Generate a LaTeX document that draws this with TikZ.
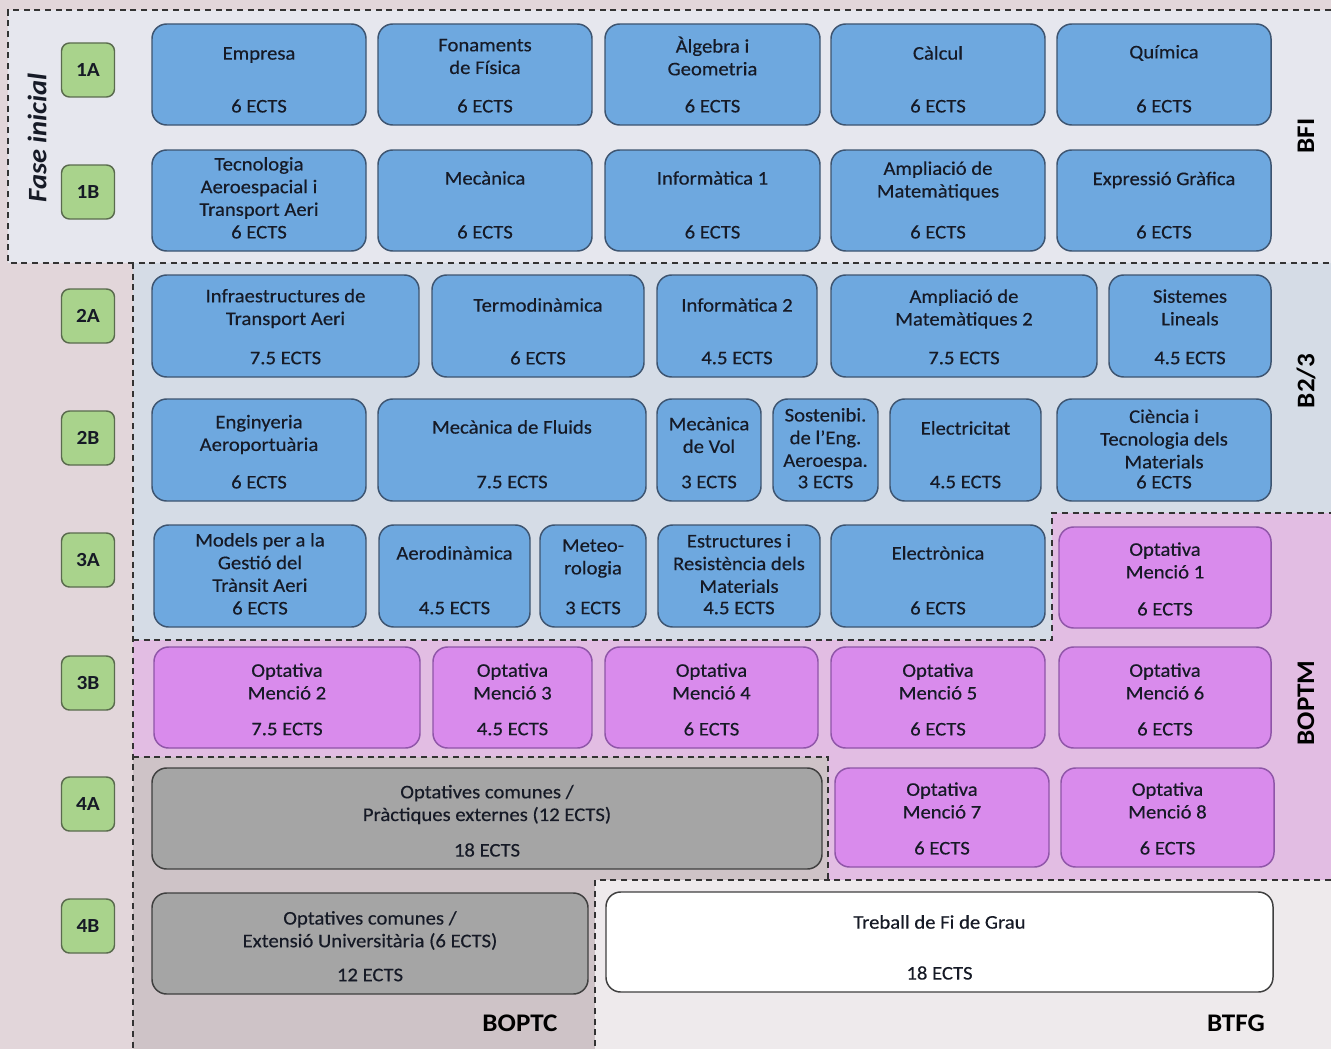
\documentclass[tikz,border=0pt]{standalone}
\usepackage{fontspec}
\setmainfont{Carlito}[FakeStretch=1.07, UprightFeatures={FakeBold=0.35}]
\definecolor{bgmauve}{HTML}{E2D6DA}
\definecolor{bfifill}{HTML}{E6E7EE}
\definecolor{btwofill}{HTML}{D5DCE6}
\definecolor{boptmfill}{HTML}{E2BDE3}
\definecolor{boptcfill}{HTML}{CEC3C7}
\definecolor{btfgfill}{HTML}{EEEAEC}
\definecolor{bluefill}{HTML}{6EA8DF}
\definecolor{blueline}{HTML}{3D5470}
\definecolor{purpfill}{HTML}{D98BEC}
\definecolor{purpline}{HTML}{8F55A8}
\definecolor{grayfill}{HTML}{A5A5A5}
\definecolor{grayline}{HTML}{3F3F3F}
\definecolor{greenfill}{HTML}{A9D38C}
\definecolor{greenline}{HTML}{5A6B4E}
\definecolor{txtcol}{HTML}{161A26}
\definecolor{dashcol}{HTML}{333333}
\tikzset{
  basebox/.style={rectangle, rounded corners=11pt, line width=1.1pt, inner sep=0pt, outer sep=0pt},
  bluebox/.style={basebox, fill=bluefill, draw=blueline},
  purpbox/.style={basebox, fill=purpfill, draw=purpline},
  graybox/.style={basebox, fill=grayfill, draw=grayline},
  whitebox/.style={basebox, fill=white, draw=grayline},
  txt/.style={align=center, text=txtcol, inner sep=0pt, font=\fontsize{14.5}{17}\selectfont},
  semlabel/.style={rectangle, rounded corners=6pt, fill=greenfill, draw=greenline, line width=1.1pt,
    minimum width=39.75pt, minimum height=40.5pt, inner sep=0pt, text=txtcol, font=\fontsize{15}{18}\selectfont\bfseries},
  regionlabel/.style={text=black, inner sep=0pt, font=\fontsize{19}{22}\selectfont\bfseries},
  dashline/.style={draw=dashcol, line width=1.1pt, dash pattern=on 4.5pt off 3.5pt},
}
\newcommand\course[9]{%
  \pgfmathsetmacro\bw{(#5-#3)*0.75}%
  \pgfmathsetmacro\bh{(#6-#4)*0.75}%
  \node[#2, minimum width=\bw pt, minimum height=\bh pt] (#1) at ({(#3+#5)/2},{(#4+#6)/2}) {};
  \node[txt] (#1-t) at ({(#3+#5)/2},#8) {#7};
  \node[txt] (#1-e) at ({(#3+#5)/2},{#6-19}) {#9};
}
\begin{document}
\begin{tikzpicture}[x=0.75pt,y=-0.75pt]
\useasboundingbox (0,0) rectangle (1331,1049);
% backgrounds
\fill[bgmauve] (0,0) rectangle (1331,1049);
\fill[bfifill] (8,10) rectangle (1331,263);
\fill[btwofill] (133,263) -- (1331,263) -- (1331,513) -- (1052,513) -- (1052,640) -- (133,640) -- cycle;
\fill[boptmfill] (1052,513) -- (1331,513) -- (1331,880) -- (828,880) -- (828,757) -- (133,757) -- (133,640) -- (1052,640) -- cycle;
\fill[boptcfill] (133,757) -- (828,757) -- (828,880) -- (595,880) -- (595,1049) -- (133,1049) -- cycle;
\fill[btfgfill] (595,880) rectangle (1331,1049);
% dashed borders
\draw[dashline] (1331,10) -- (8,10) -- (8,263) -- (1331,263);
\draw[dashline] (133,263) -- (133,1049);
\draw[dashline] (133,640) -- (1052,640) -- (1052,513) -- (1331,513);
\draw[dashline] (133,757) -- (828,757) -- (828,880);
\draw[dashline] (1331,880) -- (595,880) -- (595,1049);
% semester labels
\node[semlabel] (s1A) at (88,70) {1A};
\node[semlabel] (s1B) at (88,192) {1B};
\node[semlabel] (s2A) at (88,316) {2A};
\node[semlabel] (s2B) at (88,438) {2B};
\node[semlabel] (s3A) at (88,560) {3A};
\node[semlabel] (s3B) at (88,683) {3B};
\node[semlabel] (s4A) at (88,804) {4A};
\node[semlabel] (s4B) at (88,926) {4B};
% region labels
\node[rotate=90, text=txtcol, inner sep=0pt, font=\fontsize{20}{24}\selectfont\bfseries\itshape] (fase) at (37,138) {Fase inicial};
\node[regionlabel, rotate=90] (lbfi) at (1306,136) {BFI};
\node[regionlabel, rotate=90] (lb23) at (1306,381) {B2/3};
\node[regionlabel, rotate=90] (lboptm) at (1306,703) {BOPTM};
\node[regionlabel] (lboptc) at (520,1023) {BOPTC};
\node[regionlabel] (lbtfg) at (1236,1023) {BTFG};
% row 1A
\course{e1}{bluebox}{152}{24}{366}{125}{Empresa}{55}{6 ECTS}
\course{e2}{bluebox}{378}{24}{592}{125}{Fonaments\\de Física}{56.5}{6 ECTS}
\course{e3}{bluebox}{605}{24}{820}{125}{Àlgebra i\\Geometria}{56}{6 ECTS}
\course{e4}{bluebox}{831}{24}{1045}{125}{Càlcul}{53}{6 ECTS}
\course{e5}{bluebox}{1057}{24}{1271}{125}{Química}{53}{6 ECTS}
% row 1B
\course{f1}{bluebox}{152}{150}{366}{251}{Tecnologia\\Aeroespacial i\\Transport Aeri}{188}{6 ECTS}
\course{f2}{bluebox}{378}{150}{592}{251}{Mecànica}{178}{6 ECTS}
\course{f3}{bluebox}{605}{150}{820}{251}{Informàtica 1}{178}{6 ECTS}
\course{f4}{bluebox}{831}{150}{1045}{251}{Ampliació de\\Matemàtiques}{181}{6 ECTS}
\course{f5}{bluebox}{1057}{150}{1271}{251}{Expressió Gràfica}{180}{6 ECTS}
% row 2A
\course{g1}{bluebox}{152}{275}{419}{377}{Infraestructures de\\Transport Aeri}{308.5}{7.5 ECTS}
\course{g2}{bluebox}{432}{275}{644}{377}{Termodinàmica}{305}{6 ECTS}
\course{g3}{bluebox}{657}{275}{817}{377}{Informàtica 2}{305}{4.5 ECTS}
\course{g4}{bluebox}{831}{275}{1097}{377}{Ampliació de\\Matemàtiques 2}{309}{7.5 ECTS}
\course{g5}{bluebox}{1109}{275}{1271}{377}{Sistemes\\Lineals}{307.5}{4.5 ECTS}
% row 2B
\course{h1}{bluebox}{152}{399}{366}{501}{Enginyeria\\Aeroportuària}{434.5}{6 ECTS}
\course{h2}{bluebox}{378}{399}{646}{501}{Mecànica de Fluids}{427}{7.5 ECTS}
\course{h3}{bluebox}{657}{399}{761}{501}{Mecànica\\de Vol}{435}{3 ECTS}
\course{h4}{bluebox}{773}{399}{878}{501}{Sostenibi.\\de l’Eng.\\Aeroespa.}{439}{3 ECTS}
\course{h5}{bluebox}{890}{399}{1041}{501}{Electricitat}{428}{4.5 ECTS}
\course{h6}{bluebox}{1057}{399}{1271}{501}{Ciència i\\Tecnologia dels\\Materials}{439}{6 ECTS}
% row 3A
\course{i1}{bluebox}{154}{525}{366}{627}{Models per a la\\Gestió del\\Trànsit Aeri}{562.5}{6 ECTS}
\course{i2}{bluebox}{379}{525}{530}{627}{Aerodinàmica}{553}{4.5 ECTS}
\course{i3}{bluebox}{540}{525}{646}{627}{Meteo-\\rologia}{558.5}{3 ECTS}
\course{i4}{bluebox}{658}{525}{820}{627}{Estructures i\\Resistència dels\\Materials}{563.5}{4.5 ECTS}
\course{i5}{bluebox}{831}{525}{1045}{627}{Electrònica}{553}{6 ECTS}
\course{i6}{purpbox}{1059}{527}{1271}{628}{Optativa\\Menció 1}{560.5}{6 ECTS}
% row 3B
\course{j1}{purpbox}{154}{647}{420}{748}{Optativa\\Menció 2}{681.5}{7.5 ECTS}
\course{j2}{purpbox}{433}{647}{592}{748}{Optativa\\Menció 3}{681.5}{4.5 ECTS}
\course{j3}{purpbox}{605}{647}{818}{748}{Optativa\\Menció 4}{681.5}{6 ECTS}
\course{j4}{purpbox}{831}{647}{1045}{748}{Optativa\\Menció 5}{681.5}{6 ECTS}
\course{j5}{purpbox}{1059}{647}{1271}{748}{Optativa\\Menció 6}{681.5}{6 ECTS}
% row 4A
\course{k1}{graybox}{152}{768}{822}{869}{Optatives comunes /\\Pràctiques externes (12 ECTS)}{804.5}{18 ECTS}
\course{k2}{purpbox}{835}{768}{1049}{867}{Optativa\\Menció 7}{800.5}{6 ECTS}
\course{k3}{purpbox}{1061}{768}{1274}{867}{Optativa\\Menció 8}{800.5}{6 ECTS}
% row 4B
\course{l1}{graybox}{152}{893}{588}{994}{Optatives comunes /\\Extensió Universitària (6 ECTS)}{930.5}{12 ECTS}
\course{l2}{whitebox}{606}{892}{1273}{992}{Treball de Fi de Grau}{922}{18 ECTS}
\end{tikzpicture}
\end{document}
